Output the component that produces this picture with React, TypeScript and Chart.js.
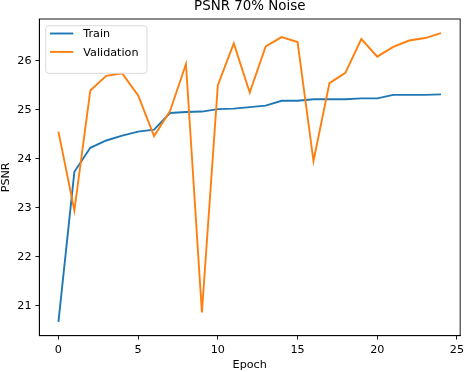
import React, { useEffect, useRef } from "react";
import { Chart, registerables } from "chart.js";

Chart.register(...registerables);

const epochs = [0, 1, 2, 3, 4, 5, 6, 7, 8, 9, 10, 11, 12, 13, 14, 15, 16, 17, 18, 19, 20, 21, 22, 23, 24];
const trainPsnr = [20.67, 23.73, 24.22, 24.37, 24.47, 24.55, 24.59, 24.93, 24.95, 24.96, 25.01, 25.02, 25.05, 25.08, 25.18, 25.18, 25.21, 25.21, 25.21, 25.23, 25.23, 25.3, 25.3, 25.3, 25.31];
const valPsnr = [24.55, 22.94, 25.39, 25.69, 25.74, 25.29, 24.46, 24.97, 25.93, 20.86, 25.5, 26.35, 25.35, 26.29, 26.48, 26.38, 23.95, 25.54, 25.75, 26.44, 26.08, 26.28, 26.41, 26.46, 26.56];
const xTicks = [0, 5, 10, 15, 20, 25];
const yTicks = [21, 22, 23, 24, 25, 26];
const seriesNames = ["Train", "Validation"];
const colors = ["#1f77b4", "#ff7f0e"];

const FONT = "'DejaVu Sans', sans-serif";
const LW = 1.9;

const overlay = {
  id: "overlay",
  afterDraw(chart: any) {
    const { ctx, chartArea: a } = chart;
    ctx.save();
    ctx.strokeStyle = "#000";
    ctx.lineWidth = 0.9;
    ctx.strokeRect(a.left, a.top, a.right - a.left, a.bottom - a.top);
    ctx.fillStyle = "#000";
    ctx.font = `13.4px ${FONT}`;
    ctx.textAlign = "center";
    ctx.textBaseline = "alphabetic";
    ctx.fillText("PSNR 70% Noise", (a.left + a.right) / 2, 10);
    ctx.font = `11.2px ${FONT}`;
    ctx.textBaseline = "middle";
    ctx.fillText("Epoch", (a.left + a.right) / 2, 365);
    ctx.save();
    ctx.translate(8.5, (a.top + a.bottom) / 2);
    ctx.rotate(-Math.PI / 2);
    ctx.textBaseline = "alphabetic";
    ctx.fillText("PSNR", 0, 0);
    ctx.restore();
    const bx = a.left + 6.4, by = a.top + 6.7, bw = 101.3, bh = 47.6, r = 3;
    ctx.beginPath();
    ctx.moveTo(bx + r, by);
    ctx.arcTo(bx + bw, by, bx + bw, by + bh, r);
    ctx.arcTo(bx + bw, by + bh, bx, by + bh, r);
    ctx.arcTo(bx, by + bh, bx, by, r);
    ctx.arcTo(bx, by, bx + bw, by, r);
    ctx.closePath();
    ctx.fillStyle = "rgba(255,255,255,0.8)";
    ctx.fill();
    ctx.strokeStyle = "#d6d6d6";
    ctx.lineWidth = 0.9;
    ctx.stroke();
    seriesNames.forEach((name, i) => {
      const ly = by + 7.8 + i * 18.4;
      ctx.strokeStyle = colors[i];
      ctx.lineWidth = LW;
      ctx.beginPath();
      ctx.moveTo(bx + 4.3, ly);
      ctx.lineTo(bx + 27.6, ly);
      ctx.stroke();
      ctx.fillStyle = "#000";
      ctx.font = `11.2px ${FONT}`;
      ctx.textAlign = "left";
      ctx.textBaseline = "middle";
      ctx.fillText(name, bx + 37.6, ly + 1);
    });
    ctx.restore();
  },
};

export default function App() {
  const ref = useRef<HTMLCanvasElement>(null);
  useEffect(() => {
    document.body.style.margin = "0";
    const canvas = ref.current!;
    const chart = new Chart(canvas, {
      type: "line",
      data: {
        datasets: [
          {
            label: seriesNames[0],
            data: epochs.map((e, i) => ({ x: e, y: trainPsnr[i] })),
            borderColor: colors[0],
            backgroundColor: colors[0],
            borderWidth: LW,
            pointRadius: 0,
            tension: 0,
            order: 2,
          },
          {
            label: seriesNames[1],
            data: epochs.map((e, i) => ({ x: e, y: valPsnr[i] })),
            borderColor: colors[1],
            backgroundColor: colors[1],
            borderWidth: LW,
            pointRadius: 0,
            tension: 0,
            order: 1,
          },
        ],
      },
      options: {
        responsive: false,
        animation: false,
        devicePixelRatio: 1,
        layout: { padding: { top: 19, right: 2.3, left: 0, bottom: 0 } },
        plugins: { legend: { display: false }, tooltip: { enabled: false }, title: { display: false } },
        scales: {
          x: {
            type: "linear",
            min: -1.2,
            max: 25.2,
            afterBuildTicks: (s: any) => { s.ticks = xTicks.map((v) => ({ value: v })); },
            afterFit: (s: any) => { s.height = 36.3; },
            grid: { display: true, drawOnChartArea: false, drawTicks: true, tickLength: 3.9, tickColor: "#000", tickWidth: 0.9 },
            border: { display: true, color: "#000", width: 0.9 },
            ticks: { color: "#000", font: { family: "DejaVu Sans", size: 11.2 }, padding: 3.9, maxRotation: 0, autoSkip: false },
          },
          y: {
            type: "linear",
            min: 20.386,
            max: 26.849,
            afterBuildTicks: (s: any) => { s.ticks = yTicks.map((v) => ({ value: v })); },
            afterFit: (s: any) => { s.width = 39.3; },
            grid: { display: true, drawOnChartArea: false, drawTicks: true, tickLength: 3.9, tickColor: "#000", tickWidth: 0.9 },
            border: { display: true, color: "#000", width: 0.9 },
            ticks: { color: "#000", font: { family: "DejaVu Sans", size: 11.2 }, padding: 3.9, autoSkip: false },
          },
        },
      },
      plugins: [overlay],
    });
    return () => chart.destroy();
  }, []);
  return <canvas ref={ref} width={468} height={372} style={{ display: "block" }} />;
}
